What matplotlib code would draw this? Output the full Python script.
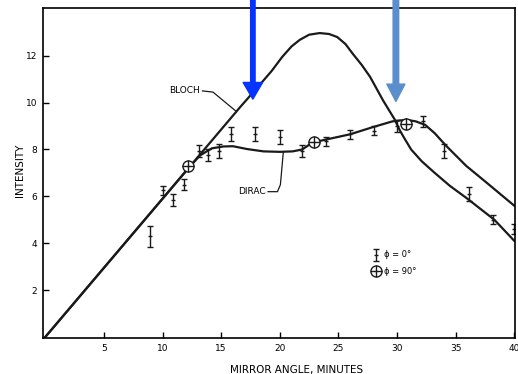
import numpy as np
import matplotlib
import matplotlib.pyplot as plt

matplotlib.use('agg')

# curves (mirror angle in minutes, intensity)
bloch_x = [0, 10, 16.6, 18.3, 19.3, 20.2, 21.0, 21.7, 22.5, 23.4, 24.2, 24.9, 25.6, 26.2, 27.0,
           27.7, 28.8, 29.8, 30.2, 30.6, 31.2, 32.1, 33.1, 34.5, 36.0, 38.3, 40.0]
bloch_y = [0, 5.9, 9.8, 10.77, 11.35, 11.95, 12.4, 12.68, 12.9, 12.97, 12.93, 12.8, 12.5, 12.1, 11.6,
           11.1, 10.1, 9.28, 8.85, 8.5, 8.0, 7.5, 7.05, 6.45, 5.9, 5.0, 4.1]

dirac_x = [0, 12.3, 13.2, 14.2, 15.2, 16.0, 17.2, 18.6, 20.0, 21.1, 21.9, 22.8, 26.0, 27.9,
           29.6, 30.8, 31.6, 32.4, 33.2, 34.2, 35.9, 37.6, 40.0]
dirac_y = [0, 7.26, 7.75, 8.05, 8.13, 8.14, 8.02, 7.92, 7.9, 7.92, 8.0, 8.3, 8.65, 8.95,
           9.2, 9.27, 9.2, 9.05, 8.7, 8.15, 7.3, 6.6, 5.6]

# measured points, phi = 0 deg
phi0_x = [8.9, 10.0, 10.9, 11.8, 13.1, 13.9, 14.8, 15.8, 17.9, 20.0, 21.9, 23.9, 26.0, 28.0,
          30.0, 32.2, 34.0, 36.1, 38.2, 40.0]
phi0_y = [4.3, 6.25, 5.85, 6.5, 7.95, 7.75, 7.95, 8.65, 8.65, 8.55, 7.95, 8.35, 8.65, 8.8,
          9.0, 9.2, 7.95, 6.1, 5.0, 4.6]
phi0_err = [0.45, 0.2, 0.25, 0.25, 0.25, 0.25, 0.3, 0.3, 0.3, 0.3, 0.25, 0.2, 0.2, 0.2,
            0.25, 0.25, 0.3, 0.3, 0.2, 0.2]

# measured points, phi = 90 deg
phi90_x = [12.2, 22.9, 30.8]
phi90_y = [7.3, 8.3, 9.1]

xticks = [5, 10, 15, 20, 25, 30, 35, 40]
yticks = [2, 4, 6, 8, 10, 12]

fig = plt.figure(figsize=(5.18, 3.74), dpi=100)
ax = fig.add_axes([0.083, 0.096, 0.911, 0.882])

ax.plot(bloch_x, bloch_y, color='#1a1a1a', lw=1.6, solid_joinstyle='round')
ax.plot(dirac_x, dirac_y, color='#1a1a1a', lw=1.6, solid_joinstyle='round')

ax.errorbar(phi0_x, phi0_y, yerr=phi0_err, fmt='_', color='#1a1a1a', ms=3,
            elinewidth=1, capsize=2, capthick=1)
ax.plot(phi90_x, phi90_y, 'o', ms=8, mfc='white', mec='#1a1a1a', mew=1)
ax.plot(phi90_x, phi90_y, '+', ms=8, color='#1a1a1a', mew=1)

# legend drawn like the original key
ax.errorbar([28.2], [3.5], yerr=[0.25], fmt='_', color='#1a1a1a', ms=3,
            elinewidth=1, capsize=2, capthick=1)
ax.plot([28.2], [2.8], 'o', ms=8, mfc='white', mec='#1a1a1a', mew=1)
ax.plot([28.2], [2.8], '+', ms=8, color='#1a1a1a', mew=1)
ax.text(28.9, 3.5, '\u03d5 = 0\u00b0', fontsize=6, va='center', ha='left')
ax.text(28.9, 2.8, '\u03d5 = 90\u00b0', fontsize=6, va='center', ha='left')

# curve labels with leader lines
ax.text(13.2, 10.5, 'BLOCH', fontsize=6.5, ha='right', va='center')
ax.plot([13.4, 14.3, 16.3], [10.5, 10.45, 9.62], color='#1a1a1a', lw=0.9)
ax.text(18.8, 6.2, 'DIRAC', fontsize=6.5, ha='right', va='center')
ax.plot([19.0, 19.8, 20.05, 20.3], [6.2, 6.2, 6.5, 7.9], color='#1a1a1a', lw=0.9)

ax.set_xlim(-0.2, 40.05)
ax.set_ylim(-0.05, 14.03)
ax.set_xticks(xticks)
ax.set_yticks(yticks)
ax.tick_params(direction='in', length=4, width=1, labelsize=6.5, pad=4)
for s in ax.spines.values():
    s.set_linewidth(1.2)

ax.set_xlabel('MIRROR ANGLE, MINUTES', fontsize=7.5)
ax.xaxis.set_label_coords(0.538, -0.082)
ax.set_ylabel('INTENSITY', fontsize=7.5)
ax.yaxis.set_label_coords(-0.038, 0.51)

# overlaid blue arrows from the top edge
ax.annotate('', xy=(17.7, 10.15), xycoords='data', xytext=(17.7, 1.01),
            textcoords=('data', 'figure fraction'), annotation_clip=False,
            arrowprops=dict(arrowstyle='simple,head_length=1.2,head_width=1.4,tail_width=0.32',
                            mutation_scale=10, color='#0533ff', shrinkA=0, shrinkB=0))
ax.annotate('', xy=(29.9, 10.05), xycoords='data', xytext=(29.9, 1.01),
            textcoords=('data', 'figure fraction'), annotation_clip=False,
            arrowprops=dict(arrowstyle='simple,head_length=1.25,head_width=1.3,tail_width=0.4',
                            mutation_scale=10, color='#5b8fcc', shrinkA=0, shrinkB=0))

fig.savefig('out.png', dpi=100)
